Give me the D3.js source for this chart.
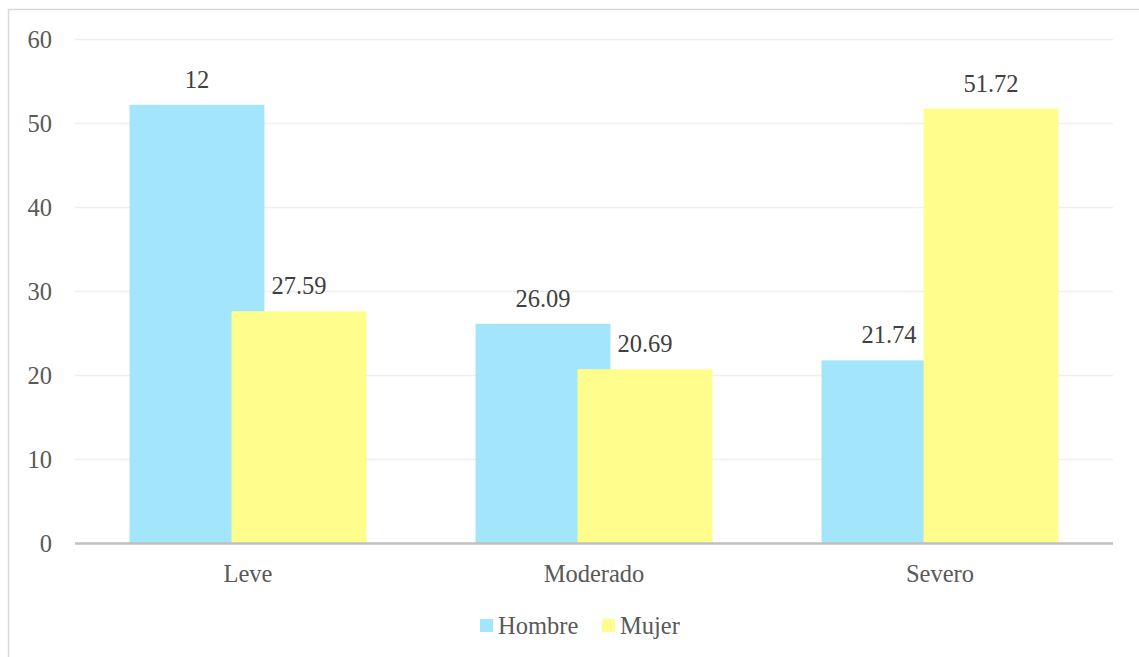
<!DOCTYPE html>
<html>
<head>
<meta charset="utf-8">
<script src="https://cdn.jsdelivr.net/npm/d3@7"></script>
<style>
  html, body { margin: 0; padding: 0; background: #ffffff; }
  svg { display: block; }
  text { font-family: "Liberation Serif", "DejaVu Serif", serif; }
</style>
</head>
<body>
<svg id="chart" width="1139" height="657"></svg>
<script>
// Severity categories and per-sex percentages
const categories = ["Leve", "Moderado", "Severo"];
const seriesNames = ["Hombre", "Mujer"];
const hombreValues = [52.17, 26.09, 21.74];
const mujerValues = [27.59, 20.69, 51.72];
// Data label text as printed on each bar
const hombreLabels = ["12", "26.09", "21.74"];
const mujerLabels = ["27.59", "20.69", "51.72"];
const yTicks = [0, 10, 20, 30, 40, 50, 60];
const seriesColors = ["#A3E6FC", "#FFFE8C"];

const FONT = 24.5;
const svg = d3.select("#chart");
const W = 1139, H = 657;
const plot = { left: 75, right: 1113, top: 39, bottom: 543 };

// Outer chart frame
svg.append("rect")
  .attr("x", 8.5).attr("y", 9.5)
  .attr("width", W + 10).attr("height", H + 10)
  .attr("fill", "none").attr("stroke", "#d9d9d9").attr("stroke-width", 1.5);

const x = d3.scaleBand().domain(categories).range([plot.left, plot.right]).paddingInner(0).paddingOuter(0);
const y = d3.scaleLinear().domain([0, 60]).range([plot.bottom, plot.top]);

// Gridlines
svg.append("g")
  .selectAll("line")
  .data(yTicks.filter(t => t > 0))
  .join("line")
  .attr("x1", plot.left).attr("x2", plot.right)
  .attr("y1", d => Math.round(y(d)) + 0.5).attr("y2", d => Math.round(y(d)) + 0.5)
  .attr("stroke", "#efefef").attr("stroke-width", 1.5);

// Y axis tick labels
const yAxis = d3.axisLeft(y).tickValues(yTicks).tickSize(0).tickPadding(0);
const yG = svg.append("g").attr("transform", `translate(52,0)`).call(yAxis);
yG.select(".domain").remove();
yG.selectAll("text")
  .attr("font-family", "Liberation Serif, serif")
  .attr("font-size", FONT).attr("fill", "#595959").attr("dy", "0.34em");

// Bars: two overlapping bars per category, Mujer drawn over Hombre
const bw = x.bandwidth();
const barW = bw * 0.39;
const step = bw * 0.295;
const series = [
  { name: seriesNames[0], values: hombreValues, labels: hombreLabels, color: seriesColors[0], offset: 0 },
  { name: seriesNames[1], values: mujerValues, labels: mujerLabels, color: seriesColors[1], offset: 1 }
];
function barX(cat, s) {
  const c = x(cat) + bw / 2;
  return c - (barW + step) / 2 + s.offset * step;
}

series.forEach(s => {
  const g = svg.append("g");
  g.selectAll("rect")
    .data(categories.map((c, i) => ({ c, v: s.values[i] })))
    .join("rect")
    .attr("x", d => barX(d.c, s))
    .attr("y", d => y(d.v))
    .attr("width", barW)
    .attr("height", d => y(0) - y(d.v))
    .attr("fill", s.color);
});

// Data labels above each bar
series.forEach(s => {
  svg.append("g").selectAll("text")
    .data(categories.map((c, i) => ({ c, v: s.values[i], t: s.labels[i] })))
    .join("text")
    .attr("x", d => barX(d.c, s) + barW / 2)
    .attr("y", d => y(d.v) - 17)
    .attr("text-anchor", "middle")
    .attr("font-size", FONT)
    .attr("fill", "#404040")
    .text(d => d.t);
});

// X axis baseline and category labels
svg.append("line")
  .attr("x1", plot.left).attr("x2", plot.right)
  .attr("y1", plot.bottom + 0.5).attr("y2", plot.bottom + 0.5)
  .attr("stroke", "#bfbfbf").attr("stroke-width", 2.5);

svg.append("g").selectAll("text")
  .data(categories)
  .join("text")
  .attr("x", d => x(d) + bw / 2)
  .attr("y", 582)
  .attr("text-anchor", "middle")
  .attr("font-size", FONT)
  .attr("fill", "#595959")
  .text(d => d);

// Legend
const legendItems = [
  { name: seriesNames[0], color: seriesColors[0], x: 480 },
  { name: seriesNames[1], color: seriesColors[1], x: 602 }
];
const lg = svg.append("g");
legendItems.forEach(it => {
  lg.append("rect").attr("x", it.x).attr("y", 619).attr("width", 13).attr("height", 13).attr("fill", it.color);
  lg.append("text").attr("x", it.x + 18).attr("y", 634)
    .attr("font-size", FONT).attr("fill", "#595959").text(it.name);
});
</script>
</body>
</html>
